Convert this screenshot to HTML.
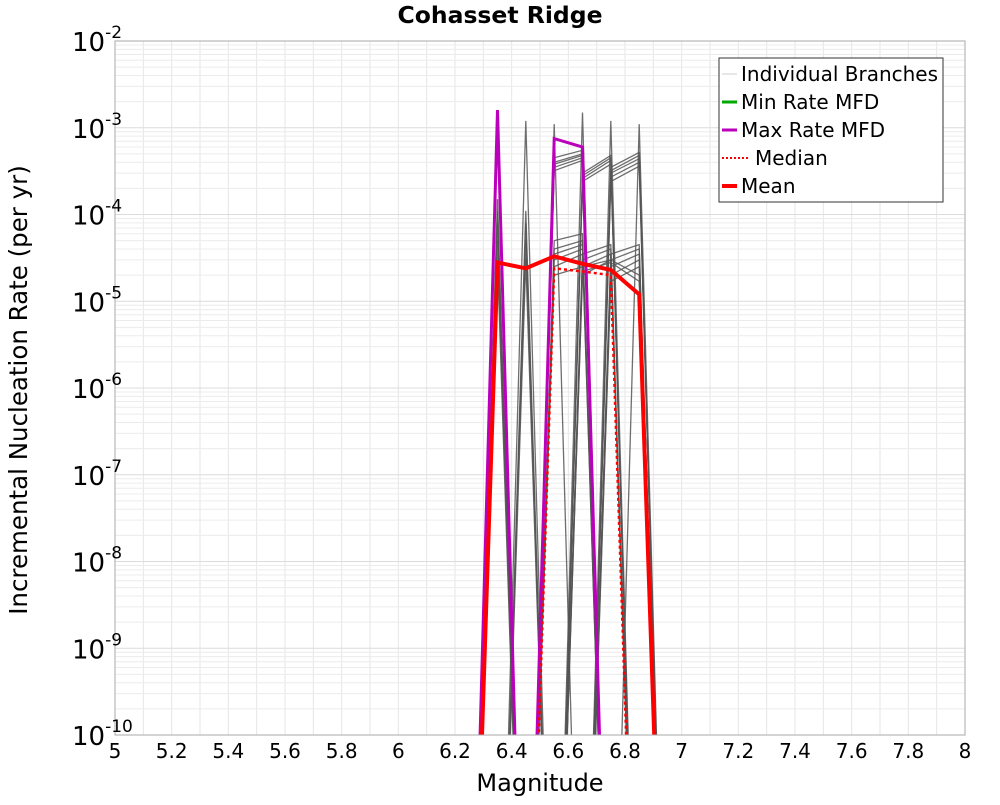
<!DOCTYPE html>
<html><head><meta charset="utf-8"><style>
body{margin:0;background:#fff}
svg text{font-family:"DejaVu Sans","Liberation Sans",sans-serif}
</style></head><body>
<svg id="chart" width="1000" height="800" xmlns="http://www.w3.org/2000/svg">
<text x="500" y="23" text-anchor="middle" font-size="23.5" font-weight="bold">Cohasset Ridge</text>
<g id="grid"></g><g id="series"></g><g id="axes"></g>
<text x="540" y="791" text-anchor="middle" font-size="24">Magnitude</text>
<text transform="translate(27,390) rotate(-90)" text-anchor="middle" font-size="24.5">Incremental Nucleation Rate (per yr)</text>
<g>
<rect x="719" y="58" width="224" height="144" fill="#fff" stroke="#333" stroke-width="1"/>
<line x1="722" y1="74" x2="737" y2="74" stroke="#ccc" stroke-width="1"/><text x="741" y="81" font-size="20">Individual Branches</text>
<line x1="722" y1="102" x2="737" y2="102" stroke="#0a0" stroke-width="3"/><text x="741" y="109" font-size="20">Min Rate MFD</text>
<line x1="722" y1="130" x2="737" y2="130" stroke="#b0b" stroke-width="3"/><text x="741" y="137" font-size="20">Max Rate MFD</text>
<line x1="722" y1="158" x2="750" y2="158" stroke="#f00" stroke-width="2" stroke-dasharray="2,2"/><text x="755" y="165" font-size="20">Median</text>
<line x1="722" y1="186" x2="737" y2="186" stroke="#f00" stroke-width="4"/><text x="741" y="193" font-size="20">Mean</text>
</g>
</svg>
<script>
const mags=[6.25,6.35,6.45,6.55,6.65,6.75,6.85,6.95];
const branches=[
[0,1.5e-4,0,0,0,0,0,0],
[0,1.1e-4,0,0,0,0,0,0],
[0,8e-5,0,0,0,0,0,0],
[0,5e-5,0,0,0,0,0,0],
[0,3e-5,0,0,0,0,0,0],
[0,0,1.2e-3,0,0,0,0,0],
[0,0,1.1e-4,0,0,0,0,0],
[0,0,8e-5,0,0,0,0,0],
[0,0,5e-5,0,0,0,0,0],
[0,0,3e-5,0,0,0,0,0],
[0,0,0,1.1e-3,0,0,0,0],
[0,0,0,0,1.5e-3,0,0,0],
[0,0,0,0,0,1.2e-3,0,0],
[0,0,0,0,0,0,1.1e-3,0],
[0,0,0,4.5e-4,5.5e-4,0,0,0],
[0,0,0,4e-4,5e-4,0,0,0],
[0,0,0,3.8e-4,4.8e-4,0,0,0],
[0,0,0,3.5e-4,4.5e-4,0,0,0],
[0,0,0,3.2e-4,4.2e-4,0,0,0],
[0,0,0,0,3e-4,4.8e-4,0,0],
[0,0,0,0,2.8e-4,4.5e-4,0,0],
[0,0,0,0,2.6e-4,4.2e-4,0,0],
[0,0,0,0,2.4e-4,3.8e-4,0,0],
[0,0,0,0,0,3.5e-4,5.2e-4,0],
[0,0,0,0,0,3.2e-4,4.8e-4,0],
[0,0,0,0,0,3e-4,4.4e-4,0],
[0,0,0,0,0,2.7e-4,4e-4,0],
[0,0,0,0,0,2.4e-4,3.6e-4,0],
[0,0,0,5e-5,6e-5,0,0,0],
[0,0,0,4e-5,5e-5,0,0,0],
[0,0,0,3.5e-5,4.5e-5,0,0,0],
[0,0,0,3e-5,4e-5,0,0,0],
[0,0,0,2.5e-5,3.5e-5,0,0,0],
[0,0,0,0,3.5e-5,4.5e-5,0,0],
[0,0,0,0,3e-5,4e-5,0,0],
[0,0,0,0,2.5e-5,3.5e-5,0,0],
[0,0,0,0,2e-5,3e-5,0,0],
[0,0,0,0,0,3.5e-5,4.5e-5,0],
[0,0,0,0,0,3e-5,4e-5,0],
[0,0,0,0,0,2.5e-5,3.5e-5,0],
[0,0,0,0,0,2e-5,3e-5,0],
[0,0,0,0,0,1.7e-5,2.5e-5,0],
[0,0,0,2e-5,2.5e-5,3e-5,2e-5,0],
[0,0,0,0,2.2e-5,2.8e-5,1.7e-5,0]
];
const maxVals=[0,1.6e-3,0,7.5e-4,6e-4,0,0,0];
const meanVals=[0,2.8e-5,2.4e-5,3.3e-5,2.7e-5,2.3e-5,1.2e-5,0];
const medVals=[0,0,0,2.4e-5,2.2e-5,2e-5,0,0];
const xTicks=[5,5.2,5.4,5.6,5.8,6,6.2,6.4,6.6,6.8,7,7.2,7.4,7.6,7.8,8];
const yExps=[-10,-9,-8,-7,-6,-5,-4,-3,-2];
const L=115,R=965,T=41,B=735,NS="http://www.w3.org/2000/svg";
const X=m=>L+(m-5)/3*(R-L);
const Y=v=>{const e=v>0?Math.log10(v):-14.5;return B-(e+10)/8*(B-T);};
function mk(t,a,p){const e=document.createElementNS(NS,t);for(const k in a)e.setAttribute(k,a[k]);p.appendChild(e);return e;}
const g=document.getElementById('grid'),s=document.getElementById('series'),ax=document.getElementById('axes');
const cp=mk('clipPath',{id:'cp'},document.getElementById('chart'));mk('rect',{x:L,y:T,width:R-L,height:B-T},cp);
s.setAttribute('clip-path','url(#cp)');
for(let m=5;m<=8.001;m+=0.1){const l=mk('line',{x1:X(m),x2:X(m),y1:T,y2:B,stroke:'#e6e6e6'},g);}
for(let e=-10;e<-2;e++)for(let k=1;k<10;k++){const y=Y(k*Math.pow(10,e));const l=mk('line',{x1:L,x2:R,y1:y,y2:y,stroke:k==1?'#dcdcdc':'#ececec'},g);}
function path(ms,vs,attrs,name){const d=ms.map((m,i)=>(i?'L':'M')+X(m).toFixed(1)+','+Y(vs[i]).toFixed(1)).join('');const p=mk('path',Object.assign({d:d,fill:'none'},attrs),s);}
branches.forEach(b=>path(mags,b,{stroke:'#555','stroke-width':1.3,'stroke-opacity':0.85},'branch-line'));
path(mags,maxVals,{stroke:'#b0b','stroke-width':3},'max-rate-line');
path(mags,medVals,{stroke:'#f00','stroke-width':2.5,'stroke-dasharray':'3,3'},'median-line');
path(mags,meanVals,{stroke:'#f00','stroke-width':4},'mean-line');
const fr=mk('rect',{x:L,y:T,width:R-L,height:B-T,fill:'none',stroke:'#aaa'},ax);
xTicks.forEach(m=>{const t=mk('text',{x:X(m),y:758,'text-anchor':'middle','font-size':20},ax);t.textContent=String(m);});
yExps.forEach(e=>{const y=Y(Math.pow(10,e));const t=mk('text',{x:72,y:y+10,'font-size':26},ax);
const a=mk('tspan',{},t);a.textContent='10';const b=mk('tspan',{dy:-13,'font-size':17},t);b.textContent=String(e);});
</script>
</body></html>
